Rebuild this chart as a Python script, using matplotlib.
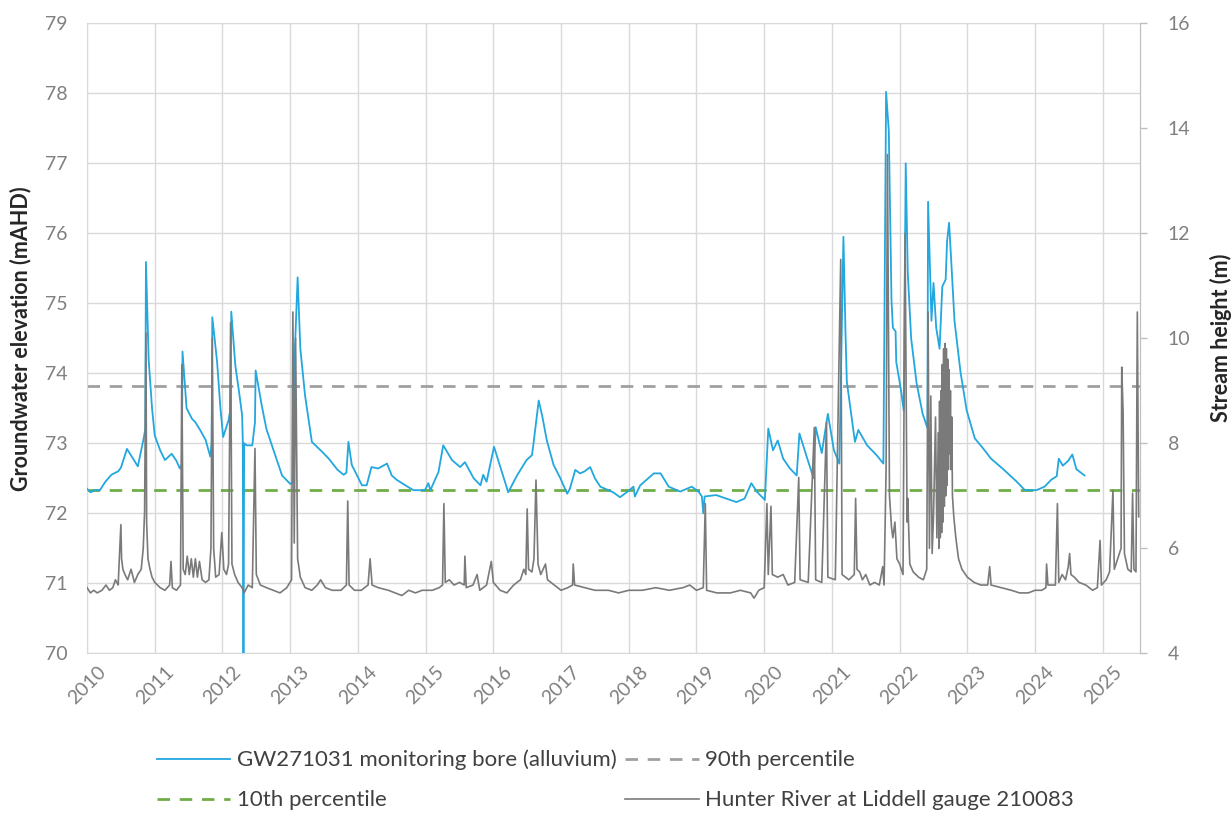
import matplotlib
matplotlib.use("Agg")
import matplotlib.pyplot as plt

# groundwater level GW271031 (mAHD), decimal years
gw_year = [
    2010.00, 2010.05, 2010.12, 2010.19, 2010.27, 2010.36, 2010.46, 2010.50, 2010.59, 2010.66,
    2010.75, 2010.83, 2010.86, 2010.87, 2010.91, 2010.96, 2011.00, 2011.08, 2011.15, 2011.25,
    2011.32, 2011.37, 2011.40, 2011.41, 2011.47, 2011.55, 2011.60, 2011.67, 2011.75, 2011.82,
    2011.84, 2011.85, 2011.92, 2011.97, 2012.01, 2012.09, 2012.12, 2012.13, 2012.19, 2012.25,
    2012.29, 2012.30, 2012.31, 2012.32, 2012.36, 2012.44, 2012.48, 2012.49, 2012.58, 2012.65,
    2012.73, 2012.88, 2013.00, 2013.04, 2013.07, 2013.11, 2013.15, 2013.22, 2013.32, 2013.47,
    2013.57, 2013.70, 2013.79, 2013.83, 2013.86, 2013.91, 2014.06, 2014.13, 2014.20, 2014.30,
    2014.43, 2014.50, 2014.57, 2014.70, 2014.82, 2014.99, 2015.04, 2015.07, 2015.19, 2015.26,
    2015.39, 2015.51, 2015.58, 2015.71, 2015.81, 2015.85, 2015.90, 2016.01, 2016.10, 2016.22,
    2016.35, 2016.49, 2016.57, 2016.59, 2016.67, 2016.72, 2016.79, 2016.89, 2016.99, 2017.09,
    2017.13, 2017.21, 2017.28, 2017.35, 2017.43, 2017.50, 2017.58, 2017.77, 2017.87, 2017.97,
    2018.07, 2018.09, 2018.17, 2018.37, 2018.47, 2018.59, 2018.76, 2018.93, 2019.03, 2019.08,
    2019.10, 2019.12, 2019.29, 2019.44, 2019.59, 2019.71, 2019.81, 2019.89, 2020.01, 2020.06,
    2020.13, 2020.20, 2020.28, 2020.38, 2020.48, 2020.52, 2020.63, 2020.73, 2020.76, 2020.85,
    2020.94, 2021.03, 2021.11, 2021.17, 2021.20, 2021.22, 2021.34, 2021.39, 2021.52, 2021.66,
    2021.76, 2021.80, 2021.84, 2021.88, 2021.90, 2021.94, 2021.95, 2022.02, 2022.06, 2022.09,
    2022.12, 2022.17, 2022.25, 2022.34, 2022.41, 2022.42, 2022.47, 2022.50, 2022.54, 2022.59,
    2022.63, 2022.68, 2022.70, 2022.73, 2022.76, 2022.81, 2022.90, 2022.99, 2023.11, 2023.23,
    2023.35, 2023.53, 2023.72, 2023.85, 2024.02, 2024.14, 2024.24, 2024.32, 2024.35, 2024.41,
    2024.49, 2024.55, 2024.61, 2024.73,
]
gw_level = [
    72.35, 72.30, 72.33, 72.33, 72.45, 72.55, 72.60, 72.65, 72.92, 72.81,
    72.67, 73.04, 73.20, 75.59, 74.20, 73.50, 73.11, 72.90, 72.76, 72.85,
    72.75, 72.64, 72.70, 74.31, 73.50, 73.35, 73.30, 73.19, 73.05, 72.81,
    73.00, 74.80, 74.17, 73.50, 73.09, 73.33, 73.50, 74.88, 74.11, 73.70,
    73.40, 73.05, 69.50, 73.00, 72.97, 72.97, 73.30, 74.04, 73.54, 73.20,
    72.97, 72.54, 72.42, 72.44, 74.35, 75.37, 74.35, 73.68, 73.02, 72.88,
    72.78, 72.62, 72.55, 72.58, 73.02, 72.69, 72.40, 72.40, 72.66, 72.64,
    72.71, 72.54, 72.48, 72.40, 72.33, 72.33, 72.43, 72.33, 72.59, 72.97,
    72.76, 72.66, 72.73, 72.50, 72.40, 72.55, 72.45, 72.95, 72.67, 72.30,
    72.54, 72.76, 72.83, 72.97, 73.61, 73.40, 73.04, 72.69, 72.50, 72.28,
    72.35, 72.62, 72.57, 72.60, 72.66, 72.50, 72.38, 72.30, 72.23, 72.30,
    72.38, 72.24, 72.40, 72.57, 72.57, 72.38, 72.31, 72.38, 72.31, 72.24,
    72.00, 72.24, 72.26, 72.21, 72.16, 72.21, 72.43, 72.31, 72.19, 73.21,
    72.90, 73.04, 72.78, 72.64, 72.54, 73.14, 72.80, 72.50, 73.23, 72.86,
    73.42, 72.90, 72.71, 75.95, 74.60, 73.88, 73.02, 73.19, 72.97, 72.83,
    72.71, 78.02, 77.46, 75.04, 74.65, 74.60, 74.16, 73.76, 73.47, 77.00,
    75.44, 74.50, 73.86, 73.42, 73.22, 76.45, 74.75, 75.29, 74.65, 74.35,
    75.24, 75.34, 75.88, 76.15, 75.64, 74.75, 74.01, 73.47, 73.07, 72.93,
    72.78, 72.63, 72.46, 72.33, 72.33, 72.38, 72.48, 72.53, 72.78, 72.68,
    72.75, 72.84, 72.63, 72.54,
]

# Hunter River at Liddell stream height (m)
river_year = [
    2010.00, 2010.05, 2010.10, 2010.15, 2010.22, 2010.28, 2010.33, 2010.38, 2010.42, 2010.46,
    2010.48, 2010.50, 2010.51, 2010.53, 2010.56, 2010.60, 2010.65, 2010.70, 2010.75, 2010.80,
    2010.83, 2010.85, 2010.87, 2010.88, 2010.90, 2010.93, 2010.96, 2011.00, 2011.08, 2011.15,
    2011.22, 2011.24, 2011.26, 2011.32, 2011.38, 2011.40, 2011.42, 2011.45, 2011.48, 2011.51,
    2011.54, 2011.57, 2011.60, 2011.63, 2011.66, 2011.70, 2011.75, 2011.80, 2011.83, 2011.85,
    2011.87, 2011.90, 2011.95, 2011.99, 2012.02, 2012.06, 2012.09, 2012.12, 2012.14, 2012.18,
    2012.23, 2012.29, 2012.32, 2012.38, 2012.44, 2012.48, 2012.50, 2012.56, 2012.65, 2012.75,
    2012.85, 2012.95, 2013.02, 2013.04, 2013.06, 2013.08, 2013.11, 2013.15, 2013.22, 2013.32,
    2013.40, 2013.45, 2013.52, 2013.62, 2013.75, 2013.83, 2013.85, 2013.87, 2013.95, 2014.05,
    2014.15, 2014.18, 2014.21, 2014.30, 2014.45, 2014.55, 2014.65, 2014.75, 2014.85, 2014.95,
    2015.10, 2015.20, 2015.25, 2015.27, 2015.29, 2015.35, 2015.42, 2015.50, 2015.57, 2015.58,
    2015.60, 2015.70, 2015.76, 2015.80, 2015.90, 2015.97, 2016.00, 2016.10, 2016.20, 2016.30,
    2016.40, 2016.45, 2016.48, 2016.50, 2016.52, 2016.57, 2016.60, 2016.63, 2016.66, 2016.70,
    2016.77, 2016.80, 2016.90, 2017.00, 2017.10, 2017.17, 2017.18, 2017.20, 2017.35, 2017.50,
    2017.70, 2017.85, 2018.00, 2018.20, 2018.40, 2018.60, 2018.80, 2018.90, 2019.00, 2019.10,
    2019.13, 2019.15, 2019.30, 2019.50, 2019.65, 2019.80, 2019.85, 2019.92, 2020.00, 2020.04,
    2020.06, 2020.10, 2020.12, 2020.20, 2020.28, 2020.35, 2020.45, 2020.51, 2020.53, 2020.65,
    2020.74, 2020.76, 2020.85, 2020.92, 2020.94, 2021.05, 2021.13, 2021.15, 2021.25, 2021.33,
    2021.35, 2021.37, 2021.41, 2021.45, 2021.50, 2021.56, 2021.63, 2021.70, 2021.75, 2021.77,
    2021.80, 2021.82, 2021.85, 2021.88, 2021.90, 2021.93, 2021.96, 2022.00, 2022.05, 2022.08,
    2022.11, 2022.12, 2022.15, 2022.20, 2022.28, 2022.35, 2022.40, 2022.42, 2022.44, 2022.46,
    2022.48, 2022.50, 2022.53, 2022.55, 2022.57, 2022.58, 2022.59, 2022.60, 2022.61, 2022.62,
    2022.63, 2022.64, 2022.65, 2022.66, 2022.67, 2022.68, 2022.69, 2022.70, 2022.71, 2022.72,
    2022.73, 2022.74, 2022.75, 2022.76, 2022.77, 2022.78, 2022.80, 2022.83, 2022.87, 2022.92,
    2023.00, 2023.10, 2023.20, 2023.30, 2023.33, 2023.35, 2023.50, 2023.65, 2023.77, 2023.90,
    2024.00, 2024.10, 2024.16, 2024.17, 2024.19, 2024.30, 2024.33, 2024.35, 2024.40, 2024.45,
    2024.49, 2024.51, 2024.53, 2024.58, 2024.65, 2024.75, 2024.85, 2024.92, 2024.96, 2024.98,
    2025.05, 2025.10, 2025.15, 2025.17, 2025.22, 2025.27, 2025.28, 2025.30, 2025.32, 2025.37,
    2025.42, 2025.44, 2025.46, 2025.49, 2025.51, 2025.53,
]
river_height = [
    5.25, 5.15, 5.20, 5.15, 5.20, 5.30, 5.20, 5.25, 5.40, 5.30,
    5.90, 6.45, 5.80, 5.60, 5.50, 5.40, 5.60, 5.35, 5.50, 5.60,
    6.00, 6.70, 10.10, 6.50, 5.80, 5.60, 5.45, 5.35, 5.25, 5.20,
    5.30, 5.75, 5.25, 5.20, 5.30, 9.50, 5.60, 5.50, 5.85, 5.50,
    5.80, 5.45, 5.80, 5.45, 5.75, 5.40, 5.35, 5.40, 6.00, 10.00,
    6.00, 5.45, 5.50, 6.30, 5.60, 5.50, 5.70, 10.30, 5.70, 5.50,
    5.35, 5.25, 5.15, 5.30, 5.25, 7.90, 5.50, 5.30, 5.25, 5.20,
    5.15, 5.25, 5.40, 10.50, 6.10, 10.00, 5.80, 5.45, 5.25, 5.20,
    5.30, 5.40, 5.25, 5.20, 5.20, 5.30, 6.90, 5.30, 5.20, 5.20,
    5.30, 5.80, 5.30, 5.25, 5.20, 5.15, 5.10, 5.20, 5.15, 5.20,
    5.20, 5.25, 5.30, 6.85, 5.35, 5.40, 5.30, 5.35, 5.30, 5.85,
    5.25, 5.30, 5.50, 5.20, 5.30, 5.75, 5.35, 5.20, 5.15, 5.30,
    5.40, 5.60, 5.50, 6.75, 5.60, 5.55, 5.80, 7.30, 5.70, 5.50,
    5.70, 5.40, 5.30, 5.20, 5.25, 5.30, 5.70, 5.30, 5.25, 5.20,
    5.20, 5.15, 5.20, 5.20, 5.25, 5.20, 5.25, 5.30, 5.20, 5.25,
    6.85, 5.20, 5.15, 5.15, 5.20, 5.15, 5.05, 5.20, 5.25, 6.85,
    5.50, 6.80, 5.50, 5.45, 5.50, 5.30, 5.35, 7.35, 5.40, 5.35,
    8.30, 5.40, 5.35, 8.40, 5.45, 5.40, 11.50, 5.50, 5.40, 5.50,
    6.95, 5.60, 5.55, 5.40, 5.50, 5.30, 5.35, 5.30, 5.65, 5.30,
    7.50, 13.50, 7.00, 6.40, 6.20, 6.50, 5.80, 5.70, 5.50, 12.00,
    6.50, 6.95, 5.70, 5.55, 5.45, 5.40, 5.60, 10.50, 6.00, 8.90,
    5.90, 6.60, 8.50, 6.20, 8.20, 6.00, 8.80, 6.20, 9.00, 6.30,
    9.50, 6.50, 9.80, 6.80, 9.90, 7.00, 9.80, 7.20, 9.60, 7.50,
    9.40, 7.80, 9.00, 7.50, 8.50, 7.00, 6.60, 6.20, 5.80, 5.60,
    5.45, 5.35, 5.30, 5.30, 5.65, 5.30, 5.25, 5.20, 5.15, 5.15,
    5.20, 5.20, 5.25, 5.70, 5.30, 5.30, 6.85, 5.35, 5.50, 5.40,
    5.65, 5.90, 5.50, 5.45, 5.35, 5.30, 5.20, 5.25, 6.15, 5.30,
    5.40, 5.55, 7.10, 5.60, 5.80, 6.00, 9.45, 8.60, 5.90, 5.60,
    5.55, 7.05, 5.60, 5.55, 10.50, 6.60,
]

p90 = 73.82
p10 = 72.33
years = list(range(2010, 2026))

plt.rcParams['font.family'] = ['Lato', 'DejaVu Sans']

fig = plt.figure(figsize=(12.31, 8.16), dpi=100)
ax = fig.add_axes([0.0707, 0.1994, 0.8554, 0.7721])
ax2 = ax.twinx()

grid_c = '#d9d9d9'
tick_c = '#808080'

gw_line, = ax.plot(gw_year, gw_level, color='#22a7df', lw=1.3, zorder=3)
p90_line = ax.axhline(p90, color='#a0a0a0', lw=2.0, dashes=(4.5, 3.5), zorder=2)
p10_line = ax.axhline(p10, color='#70ad47', lw=2.0, dashes=(4.5, 3.5), zorder=2)
river_line, = ax2.plot(river_year, river_height, color='#7a7a7a', lw=1.2)

ax.set_xlim(2010, 2025.55)
ax.set_ylim(70, 79)
ax2.set_ylim(4, 16)
ax.set_xticks(years)
ax.set_xticklabels([str(y) for y in years], rotation=45)
ax.set_yticks(range(70, 80))
ax2.set_yticks(range(4, 17, 2))

ax.grid(True, color=grid_c, lw=1)
ax.set_axisbelow(True)
ax.tick_params(axis='both', length=0, colors=tick_c, labelsize=14)
ax.tick_params(axis='y', pad=14)
ax.tick_params(axis='x', pad=7)
ax2.tick_params(axis='y', length=5, width=1, color='#bfbfbf', colors=tick_c,
                labelsize=14, pad=15)
ax2.tick_params(axis='y', color='#bfbfbf')

for s in ax.spines.values():
    s.set_color(grid_c)
for name, s in ax2.spines.items():
    s.set_visible(name == 'right')
ax2.spines['right'].set_color('#bfbfbf')

ax.set_ylabel('Groundwater elevation (mAHD)', fontsize=15.5, fontweight='bold',
              color='#262626', labelpad=10)
ax2.set_ylabel('Stream height (m)', fontsize=15.5, fontweight='bold',
               color='#262626', labelpad=14)

handles = [gw_line, p10_line, p90_line, river_line]
labels = ['GW271031 monitoring bore (alluvium)', '10th percentile',
          '90th percentile', 'Hunter River at Liddell gauge 210083']
fig.legend(handles, labels, loc='center', bbox_to_anchor=(0.5, 1 - 780 / 816),
           ncol=2, frameon=False, fontsize=16, handlelength=3.3,
           handletextpad=0.3, columnspacing=0.4, labelspacing=0.9,
           labelcolor='#404040')

fig.savefig('out.png', dpi=100)
